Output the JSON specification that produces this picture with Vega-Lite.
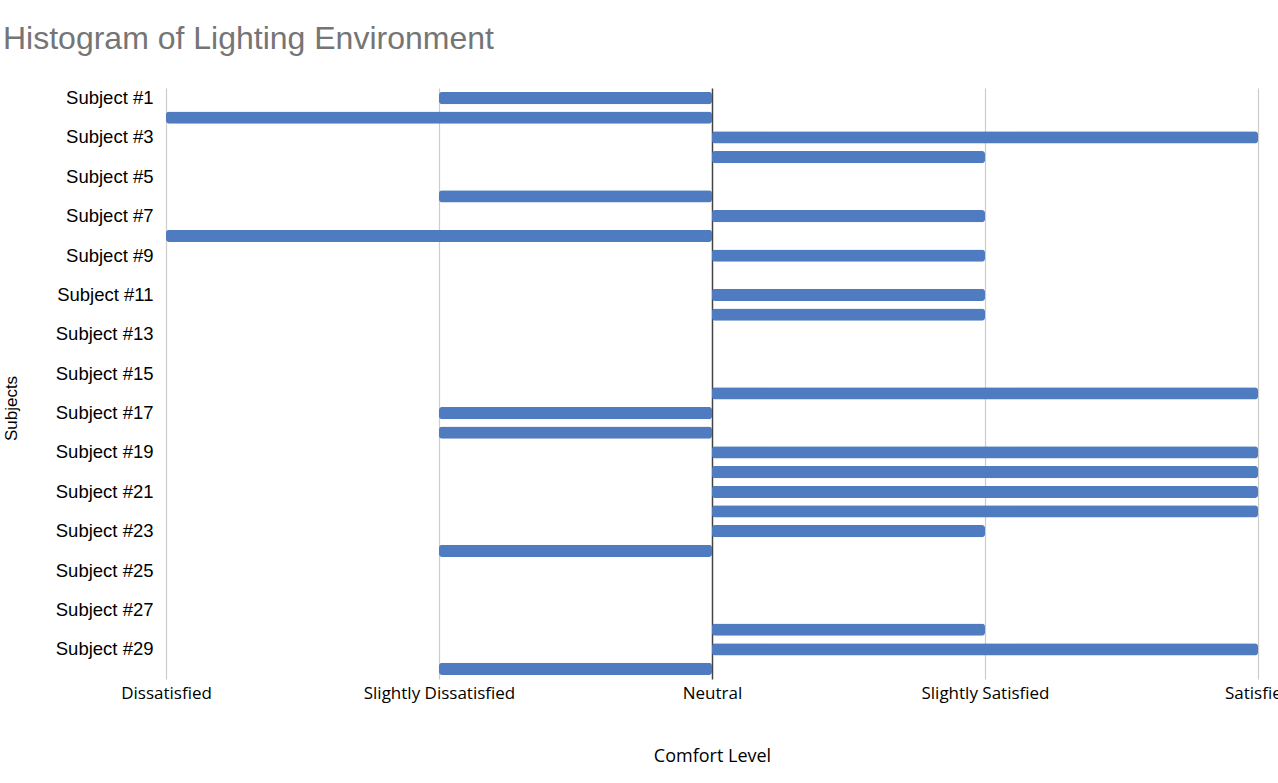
{
  "$schema": "https://vega.github.io/schema/vega-lite/v6.json",
  "autosize": {"type": "none"},
  "width": 1092,
  "height": 591,
  "padding": {"left": 166, "top": 88, "right": 20, "bottom": 104},
  "background": "white",
  "title": {
    "text": "Histogram of Lighting Environment",
    "anchor": "start",
    "frame": "group",
    "dx": -163,
    "offset": 32,
    "font": "Liberation Sans",
    "fontSize": 32,
    "fontWeight": "normal",
    "color": "#757575"
  },
  "data": {
    "values": [
      {"subject": "Subject #1", "comfort": -1},
      {"subject": "Subject #2", "comfort": -2},
      {"subject": "Subject #3", "comfort": 2},
      {"subject": "Subject #4", "comfort": 1},
      {"subject": "Subject #5", "comfort": 0},
      {"subject": "Subject #6", "comfort": -1},
      {"subject": "Subject #7", "comfort": 1},
      {"subject": "Subject #8", "comfort": -2},
      {"subject": "Subject #9", "comfort": 1},
      {"subject": "Subject #10", "comfort": 0},
      {"subject": "Subject #11", "comfort": 1},
      {"subject": "Subject #12", "comfort": 1},
      {"subject": "Subject #13", "comfort": 0},
      {"subject": "Subject #14", "comfort": 0},
      {"subject": "Subject #15", "comfort": 0},
      {"subject": "Subject #16", "comfort": 2},
      {"subject": "Subject #17", "comfort": -1},
      {"subject": "Subject #18", "comfort": -1},
      {"subject": "Subject #19", "comfort": 2},
      {"subject": "Subject #20", "comfort": 2},
      {"subject": "Subject #21", "comfort": 2},
      {"subject": "Subject #22", "comfort": 2},
      {"subject": "Subject #23", "comfort": 1},
      {"subject": "Subject #24", "comfort": -1},
      {"subject": "Subject #25", "comfort": 0},
      {"subject": "Subject #26", "comfort": 0},
      {"subject": "Subject #27", "comfort": 0},
      {"subject": "Subject #28", "comfort": 1},
      {"subject": "Subject #29", "comfort": 2},
      {"subject": "Subject #30", "comfort": -1}
    ]
  },
  "mark": {"type": "bar", "color": "#4F7CC1", "cornerRadius": 3},
  "encoding": {
    "y": {
      "field": "subject",
      "type": "nominal",
      "sort": null,
      "scale": {"paddingInner": 0.38, "paddingOuter": 0.2},
      "axis": {
        "title": "Subjects",
        "titleFont": "Liberation Sans",
        "titleFontSize": 17,
        "titleFontWeight": "normal",
        "titleColor": "#000",
        "titleX": -146,
        "titleY": 320,
        "titleAlign": "center",
        "titleBaseline": "bottom",
        "values": ["Subject #1","Subject #3","Subject #5","Subject #7","Subject #9","Subject #11","Subject #13","Subject #15","Subject #17","Subject #19","Subject #21","Subject #23","Subject #25","Subject #27","Subject #29"],
        "labelFont": "Liberation Sans",
        "labelFontSize": 18.5,
        "labelColor": "#000",
        "labelPadding": 13,
        "ticks": false,
        "domain": false,
        "grid": false
      }
    },
    "x": {
      "field": "comfort",
      "type": "quantitative",
      "scale": {"domain": [-2, 2], "nice": false},
      "axis": {
        "title": "Comfort Level",
        "titleFont": "Open Sans",
        "titleFontSize": 18,
        "titleFontWeight": "normal",
        "titleColor": "#000",
        "titlePadding": 46,
        "values": [-2, -1, 0, 1, 2],
        "labelExpr": "datum.value == -2 ? 'Dissatisfied' : datum.value == -1 ? 'Slightly Dissatisfied' : datum.value == 0 ? 'Neutral' : datum.value == 1 ? 'Slightly Satisfied' : 'Satisfied'",
        "labelFont": "Open Sans",
        "labelFontSize": 17,
        "labelColor": "#000",
        "labelPadding": 6,
        "labelOverlap": false,
        "labelBound": false,
        "labelFlush": false,
        "ticks": false,
        "domain": false,
        "grid": true,
        "gridColor": {"condition": {"test": "datum.value == 0", "value": "#444444"}, "value": "#cccccc"},
        "gridWidth": {"condition": {"test": "datum.value == 0", "value": 1.5}, "value": 1.2}
      }
    }
  },
  "config": {"view": {"stroke": null}}
}
